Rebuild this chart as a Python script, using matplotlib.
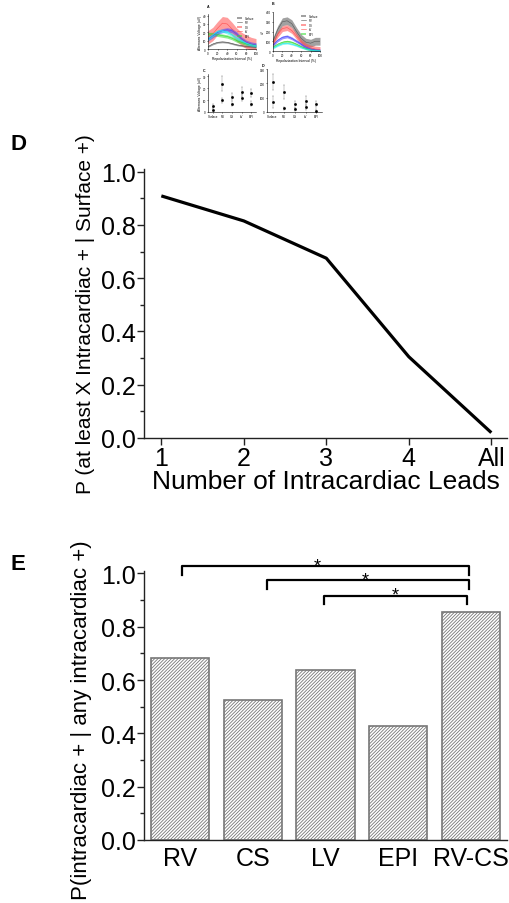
import matplotlib.pyplot as plt
import numpy as np

plt.rcParams['font.family'] = ['Liberation Sans', 'DejaVu Sans']
plt.rcParams['hatch.color'] = '#a0a0a0'
plt.rcParams['hatch.linewidth'] = 0.6

# ---- thumbnail data (panels A-D of the small inset figure) ----
rep_x = [0, 10, 20, 30, 40, 50, 60, 70, 80, 90, 100]
series_names = ['Surface', 'RV', 'CS', 'LV', 'EPI']
series_colors = ['#555555', '#ff4d4d', '#33dd33', '#4444ff', '#22eeee']

a_mean = {
    'Surface': [3, 6, 8, 8.5, 8, 6.5, 5, 4, 3, 2.5, 2],
    'RV': [14, 18, 25, 31, 30, 24, 17, 12, 8.5, 6, 4.5],
    'CS': [18, 18, 17, 16, 15, 13, 10, 8, 6, 5, 4],
    'LV': [12, 16, 20, 22, 23, 22, 18, 12, 8, 6, 5],
    'EPI': [12, 17, 21, 22, 20, 17, 13, 10, 7, 5, 4],
}
a_err = {'Surface': 1, 'RV': 8, 'CS': 2, 'LV': 2.5, 'EPI': 2}

b_mean = {
    'Surface': [100, 220, 300, 310, 280, 200, 130, 90, 80, 100, 100],
    'RV': [80, 170, 230, 240, 210, 150, 90, 50, 30, 20, 15],
    'CS': [40, 70, 90, 100, 90, 70, 45, 25, 12, 8, 5],
    'LV': [60, 110, 140, 150, 130, 100, 70, 40, 20, 10, 8],
    'EPI': [30, 55, 75, 80, 70, 55, 35, 20, 10, 6, 4],
}
b_err = {'Surface': 40, 'RV': 30, 'CS': 10, 'LV': 15, 'EPI': 8}

c_hi = [5, 24, 13, 17, 16]
c_hi_err = [2, 6, 3, 4, 3]
c_lo = [2, 10, 7, 12, 7]
c_lo_err = [1, 2, 2, 3, 2]

d_hi = [210, 140, 55, 75, 55]
d_hi_err = [55, 50, 25, 35, 20]
d_lo = [70, 25, 20, 35, 10]
d_lo_err = [40, 10, 10, 20, 8]

# ---- panel D ----
lead_labels = ['1', '2', '3', '4', 'All']
p_at_least = [0.909, 0.815, 0.675, 0.305, 0.02]

# ---- panel E ----
sites = ['RV', 'CS', 'LV', 'EPI', 'RV-CS']
p_site = [0.682, 0.524, 0.639, 0.426, 0.854]
# brackets: start, end, height, star x
brackets = [(0.02, 3.98, 1.027, 1.89), (1.2, 3.98, 0.975, 2.55), (1.98, 3.95, 0.916, 2.96)]

W, H = 510, 904
fig = plt.figure(figsize=(W / 100, H / 100), dpi=100)


def px(l, t, r, b):
    return [l / W, 1 - b / H, (r - l) / W, (b - t) / H]


def tiny(ax, ymax, yt):
    ax.spines['top'].set_visible(False)
    ax.spines['right'].set_visible(False)
    for s in ax.spines.values():
        s.set_linewidth(0.4)
    ax.tick_params(labelsize=2.2, length=1, width=0.4, pad=0.5)
    ax.set_ylim(0, ymax)
    ax.set_yticks(yt)


# thumbnail A and B
for box, means, errs, ymax, yt, lab in [
        (px(208, 15, 256, 50), a_mean, a_err, 42, [0, 10, 20, 30, 40], 'A'),
        (px(273, 13, 320, 52), b_mean, b_err, 400, [0, 100, 200, 300, 400], 'B')]:
    ax = fig.add_axes(box)
    for name, col in zip(series_names, series_colors):
        m = np.array(means[name])
        ax.fill_between(rep_x, m - errs[name], m + errs[name], color=col, alpha=0.55, lw=0)
        ax.plot(rep_x, m, color=col, lw=0.4)
    ax.set_xlim(0, 100)
    ax.set_xticks([0, 20, 40, 60, 80, 100])
    tiny(ax, ymax, yt)
    ax.set_xlabel('Repolarization Interval (%)', fontsize=2.4, labelpad=0.5)
    if lab == 'A':
        ax.set_ylabel('Alternans Voltage (uV)', fontsize=2.4, labelpad=0.5)
    else:
        ax.set_ylabel('uV', fontsize=2.2, labelpad=0.5)
    ax.legend(series_names, fontsize=2, frameon=False, loc='upper right',
              handlelength=2, borderpad=0.2, labelspacing=0.15)
    ax.text(-0.02, 1.2, lab, transform=ax.transAxes, fontsize=2.6, fontweight='bold')

# thumbnail C and D
for box, hi, hie, lo, loe, ymax, yt, lab in [
        (px(208, 75, 256, 113), c_hi, c_hi_err, c_lo, c_lo_err, 32, [0, 10, 20, 30], 'C'),
        (px(267, 70, 322, 113), d_hi, d_hi_err, d_lo, d_lo_err, 300, [0, 100, 200, 300], 'D')]:
    ax = fig.add_axes(box)
    xs = np.arange(len(series_names))
    ax.errorbar(xs, hi, yerr=hie, fmt='s', ms=0.9, color='black', ecolor='gray',
                elinewidth=0.3, capsize=0.5, capthick=0.3)
    ax.errorbar(xs, lo, yerr=loe, fmt='s', ms=0.9, color='black', ecolor='gray',
                elinewidth=0.3, capsize=0.5, capthick=0.3)
    ax.set_xlim(-0.5, 4.5)
    ax.set_xticks(xs)
    ax.set_xticklabels(series_names)
    tiny(ax, ymax, yt)
    if lab == 'C':
        ax.set_ylabel('Alternans Voltage (uV)', fontsize=2.4, labelpad=0.5)
    ax.text(-0.1, 1.08, lab, transform=ax.transAxes, fontsize=2.6, fontweight='bold')


def style_main(ax):
    ax.spines['top'].set_visible(False)
    ax.spines['right'].set_visible(False)
    for s in ax.spines.values():
        s.set_linewidth(1.0)
        s.set_color('#222222')
    ax.set_ylim(0, 1.01)
    ax.set_yticks([0, 0.2, 0.4, 0.6, 0.8, 1.0])
    ax.set_yticklabels(['0.0', '0.2', '0.4', '0.6', '0.8', '1.0'])
    ax.set_yticks(np.arange(0.1, 1.0, 0.2), minor=True)
    ax.tick_params(axis='both', which='major', labelsize=18, length=5, width=1,
                   direction='out', color='#222222')
    ax.tick_params(axis='y', which='major', pad=1)
    ax.tick_params(axis='x', which='major', pad=1)
    ax.tick_params(axis='y', which='minor', length=3, width=1, color='#222222')


# panel D
axD = fig.add_axes(px(144, 170, 507, 439))
xD = np.arange(len(lead_labels))
axD.plot(xD, p_at_least, color='black', lw=2.3, solid_capstyle='butt')
axD.set_xlim(-0.21, 4.19)
axD.set_xticks(xD)
axD.set_xticklabels(lead_labels)
style_main(axD)
axD.set_xlabel('Number of Intracardiac Leads', fontsize=19, labelpad=-1)
axD.set_ylabel('P (at least X Intracardiac + | Surface +)', fontsize=15)
axD.yaxis.set_label_coords(-0.135, 0.464)
fig.text(11 / W, 1 - 144 / H, 'D', fontsize=16, fontweight='bold', va='center')

# panel E
axE = fig.add_axes(px(144, 571.7, 507, 841))
xE = np.arange(len(sites))
axE.bar(xE, p_site, width=0.8, color='white', edgecolor='#777777', linewidth=1.2,
        hatch='//////////')
axE.set_xlim(-0.5, 4.5)
axE.set_xticks(xE)
axE.set_xticklabels(sites)
style_main(axE)
axE.tick_params(axis='x', length=0, pad=4)
axE.set_ylabel('P(intracardiac + | any intracardiac +)', fontsize=16)
axE.yaxis.set_label_coords(-0.143, 0.45)
for x0, x1, h, sx in brackets:
    axE.plot([x0, x0, x1, x1], [h - 0.032, h, h, h - 0.032], color='black', lw=1.6,
             clip_on=False)
    axE.text(sx, h - 0.015, '*', ha='center', va='baseline', fontsize=13)
fig.text(11 / W, 1 - 565 / H, 'E', fontsize=16, fontweight='bold', va='center')

fig.savefig('out.png', dpi=100)
